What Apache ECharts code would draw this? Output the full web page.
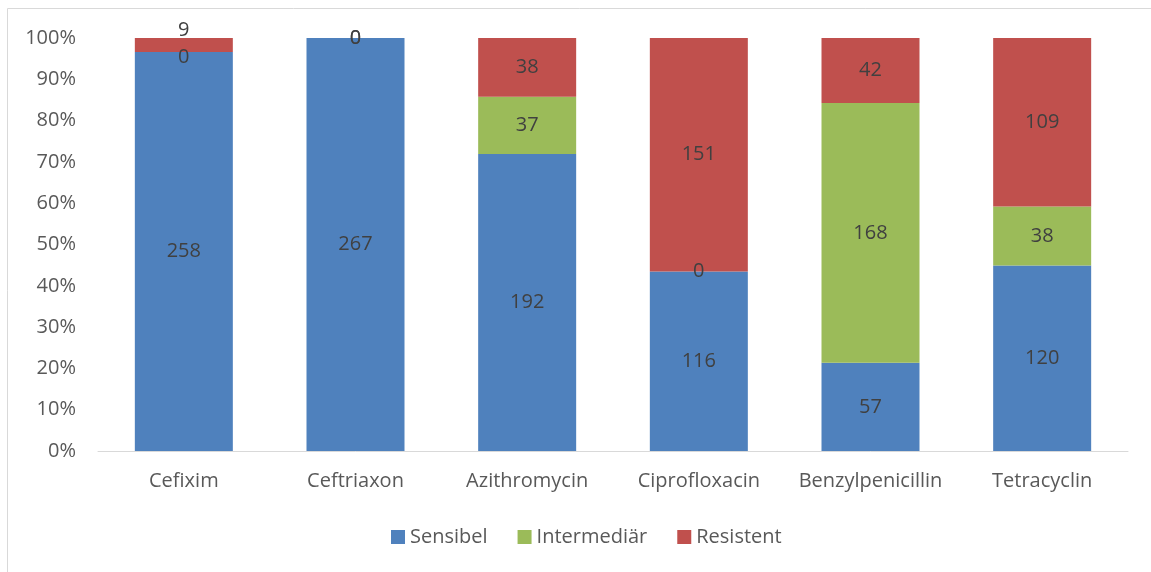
<!DOCTYPE html>
<html>
<head>
<meta charset="utf-8">
<style>
html,body{margin:0;padding:0;background:#fff;}
#chart{width:1151px;height:572px;}
</style>
<script src="https://cdn.jsdelivr.net/npm/echarts@6/dist/echarts.min.js"></script>
</head>
<body>
<div id="chart"></div>
<script>
const categories = ['Cefixim','Ceftriaxon','Azithromycin','Ciprofloxacin','Benzylpenicillin','Tetracyclin'];
const sensibel = [258, 267, 192, 116, 57, 120];
const intermediar = [0, 0, 37, 0, 168, 38];
const resistent = [9, 0, 38, 151, 42, 109];
const seriesNames = ['Sensibel','Intermediär','Resistent'];
const colors = ['#4F81BD','#9BBB59','#C0504D'];

const totals = categories.map((c,i)=>sensibel[i]+intermediar[i]+resistent[i]);
function pctData(arr){
  return arr.map((v,i)=>({value: v/totals[i]*100, raw: v}));
}
const raws = [sensibel, intermediar, resistent];
const font = '"Open Sans", sans-serif';
const fs = 20;

const chart = echarts.init(document.getElementById('chart'));
chart.setOption({
  animation:false,
  color: colors,
  textStyle:{fontFamily:font},
  graphic:[
    {type:'line', shape:{x1:7.5,y1:8.5,x2:1151,y2:8.5}, style:{stroke:'#D9D9D9',lineWidth:1}},
    {type:'line', shape:{x1:7.5,y1:8.5,x2:7.5,y2:572}, style:{stroke:'#D9D9D9',lineWidth:1}}
  ],
  grid:{left:98,right:23,top:38,bottom:121,containLabel:false},
  legend:{
    top:522, left:386,
    itemWidth:14,itemHeight:14,itemGap:30,
    icon:'rect',
    textStyle:{color:'#595959',fontSize:fs,fontFamily:font},
    data:seriesNames
  },
  xAxis:{
    type:'category', data:categories,
    axisLine:{lineStyle:{color:'#D9D9D9'}},
    axisTick:{show:false},
    axisLabel:{color:'#595959',fontSize:fs,margin:20,fontFamily:font,interval:0}
  },
  yAxis:{
    type:'value', min:0, max:100, interval:10,
    axisLabel:{formatter:'{value}%',color:'#595959',fontSize:fs,margin:22,fontFamily:font},
    splitLine:{show:false},
    axisLine:{show:false}, axisTick:{show:false}
  },
  series: seriesNames.map((n,k)=>({
    name:n, type:'bar', stack:'total', barWidth:98,
    data: pctData(raws[k]).map((d,i)=>{
      if (k===1 && i===0) d.label={offset:[0,5]};
      if (k===2 && i===0) d.label={offset:[0,-15]};
      return d;
    }),
    label:{show:true, position:'inside', color:'#404040', fontSize:fs, fontFamily:font,
      formatter:p=>String(p.data.raw)}
  }))
});
</script>
</body>
</html>
